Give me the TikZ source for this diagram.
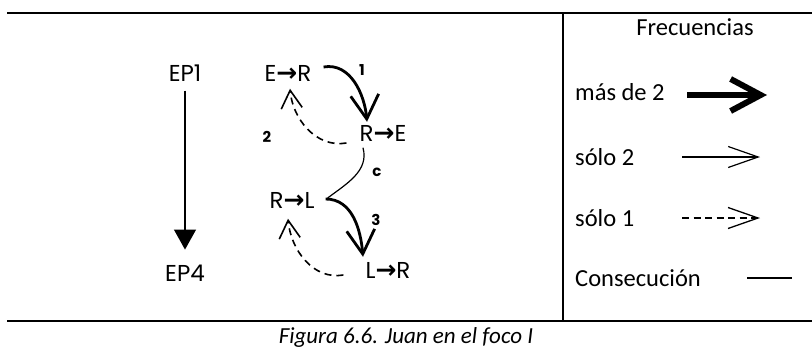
\documentclass[tikz,border=0pt]{standalone}
\usepackage{fontspec}
\setmainfont{Carlito}
\newfontfamily\gothic{Poppins}
\newfontfamily\arrowfont{DejaVu Sans Bold}
\usetikzlibrary{arrows.meta,positioning}
\newcommand{\flecha}{{\fontsize{25}{25}\arrowfont\symbol{"2192}}}

\begin{document}
\begin{tikzpicture}[x=1pt,y=1pt]
\tikzset{
 st/.style={font=\fontsize{23}{23}\gothic,inner sep=0pt},
 lab/.style={font=\fontsize{15}{15}\gothic\bfseries,inner sep=0pt},
 leg/.style={font=\fontsize{24.5}{24.5}\selectfont,anchor=west,inner sep=0pt},
 marco/.style={line width=1.5pt},
 mucho/.style={line width=2.8pt,-{Straight Barb[length=24pt,width=28pt]}},
 dos/.style={line width=1.2pt,-{Straight Barb[length=30pt,width=21pt]}},
 uno/.style={line width=1.6pt,dash pattern=on 7pt off 5pt,-{Straight Barb[length=18pt,width=21pt]}},
 cons/.style={line width=1.2pt}
}
\useasboundingbox (0,0) rectangle (812,-351);
% marco
\draw[marco] (7,-13) -- (812,-13);
\draw[marco] (7,-321) -- (812,-321);
\draw[marco] (563,-13) -- (563,-321);
% episodios
\node[st] (ep1) at (185,-73) {EP1};
\node[st] (ep4) at (185,-273) {EP4};
\draw[line width=1.2pt,-{Triangle[length=20pt,width=22pt]}] ([yshift=-9pt]ep1.south) -- ([yshift=15pt]ep4.north);
% estados
\node[st] (er) at (288,-73) {E\flecha R};
\node[st] (re) at (383,-133) {R\flecha E};
\node[st] (rl) at (292,-200) {R\flecha L};
\node[st] (lr) at (388,-270) {L\flecha R};
\draw[mucho] ([shift={(12,6)}]er.east) to[out=10,in=95] ([shift={(-16,3)}]re.north);
\draw[uno] ([shift={(-13,-10)}]re.west) to[out=190,in=-85] ([shift={(2,-7.5)}]er.south);
\draw[cons] ([shift={(-20,-6.5)}]re.south) to[out=-75,in=37] ([shift={(13,2)}]rl.east);
\draw[mucho] ([shift={(11,1)}]rl.east) to[out=0,in=95] ([shift={(-25,5)}]lr.north);
\draw[uno] ([shift={(-22,-5)}]lr.west) to[out=190,in=-85] ([shift={(-4,-10.5)}]rl.south);
\node[lab] (l1) at (362,-70) {1};
\node[lab] (l2) at (267,-137) {2};
\node[lab] (lc) at (377,-172) {c};
\node[lab] (l3) at (376,-220) {3};
% leyenda
\node[leg,anchor=center] (frec) at (695,-27) {Frecuencias};
\node[leg] (m2) at (575,-92) {más de 2};
\node[leg] (s2) at (575,-157) {sólo 2};
\node[leg] (s1) at (575,-218) {sólo 1};
\node[leg] (co) at (575,-278) {Consecución};
\coordinate (m2a) at (687,-95);
\coordinate (m2b) at (767,-95);
\coordinate (s2a) at (682,-157);
\coordinate (s2b) at (760,-157);
\coordinate (s1a) at (682,-218);
\coordinate (s1b) at (760,-218);
\coordinate (coa) at (747,-278);
\coordinate (cob) at (792,-278);
\draw[mucho,line width=6pt,-{Straight Barb[length=30pt,width=32pt]}] (m2a) -- (m2b);
\draw[dos] (s2a) -- (s2b);
\draw[uno,line width=1.3pt,dash pattern=on 7pt off 4.5pt,-{Straight Barb[length=30pt,width=21pt]}] (s1a) -- (s1b);
\draw[cons] (coa) -- (cob);
% pie
\node[font=\itshape\fontsize{23}{23}\selectfont,inner sep=0pt] (pie) at (406,-337) {Figura 6.6. Juan en el foco I};
\end{tikzpicture}
\end{document}
